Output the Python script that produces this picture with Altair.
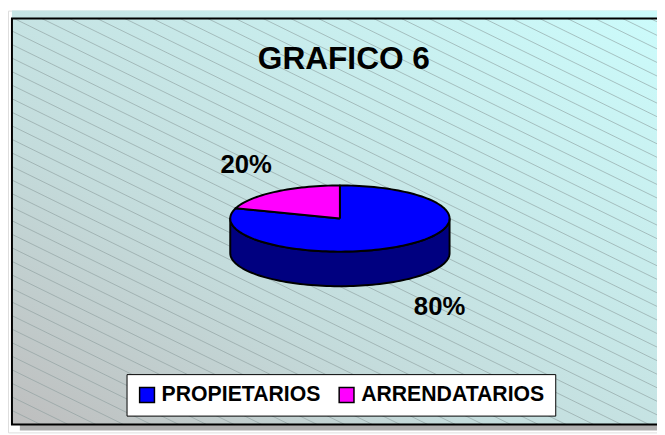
import altair as alt
import numpy as np
import pandas as pd

# ---- data ----
categories = ["PROPIETARIOS", "ARRENDATARIOS"]
shares = [80, 20]
top_colors = ["#0000FF", "#FF00FF"]
side_colors = ["#000080", "#800080"]
title_text = "GRAFICO 6"

# ---- layout (pixels inside the view) ----
W, H = 657, 427
CX, CY, RX, RY, DEPTH = 336, 210.5, 111, 33.5, 35
FRAME_X, FRAME_Y, FRAME_Y2 = 4, 8, 419
FONT = "Liberation Sans"

xs = alt.Scale(domain=[0, W], nice=False, zero=False)
ys = alt.Scale(domain=[0, H], nice=False, zero=False, reverse=True)


def ell(t, dy=0.0):
    r = np.radians(t)
    return CX + RX * np.sin(r), CY - RY * np.cos(r) + dy


# pie geometry derived from the shares
total = sum(shares)
top_rows, side_rows, label_rows = [], [], []
start = 0.0
for cat, v in zip(categories, shares):
    sweep = 360.0 * v / total
    ts = np.linspace(start, start + sweep, max(int(sweep / 2), 4))
    pts = [(CX, CY)] + [ell(t) for t in ts] + [(CX, CY)]
    for i, (x, y) in enumerate(pts):
        top_rows.append(dict(cat=cat, i=i, x=x, y=y))
    # visible side (front half: 90..270 clockwise from top)
    a, b = max(start, 90), min(start + sweep, 270)
    if b > a:
        tt = np.linspace(a, b, max(int((b - a) / 2), 4))
        spts = [ell(t) for t in tt] + [ell(t, DEPTH) for t in tt[::-1]]
        spts.append(spts[0])
        for i, (x, y) in enumerate(spts):
            side_rows.append(dict(cat=cat, i=i, x=x, y=y))
    mid = np.radians(start + sweep / 2)
    lx = CX + 1.5 * RX * np.sin(mid) + 3
    ly = CY - 2.0 * RY * np.cos(mid) + (DEPTH if np.cos(mid) < 0 else 0)
    label_rows.append(dict(cat=cat, x=lx, y=ly, txt=f"{round(100 * v / total)}%"))
    start += sweep

top_df = pd.DataFrame(top_rows)
side_df = pd.DataFrame(side_rows)
label_df = pd.DataFrame(label_rows)

# decorative hatch lines (clipped to the frame)
slope, spacing, phase = 0.49, 28.0, 118.2
hatch = []
k0 = int(np.floor((-(FRAME_Y2 - FRAME_Y) / slope - phase) / spacing)) - 1
k1 = int(np.ceil((W - phase) / spacing)) + 1
for k in range(k0, k1 + 1):
    a = phase + spacing * k
    x_start = max(a, FRAME_X)
    x_end = min(a + (FRAME_Y2 - FRAME_Y) / slope, W)
    if x_end <= x_start:
        continue
    hatch.append(dict(x=x_start, y=FRAME_Y + slope * (x_start - a),
                      x2=x_end, y2=FRAME_Y + slope * (x_end - a)))
hatch_df = pd.DataFrame(hatch)

bg_df = pd.DataFrame([dict(x=FRAME_X, x2=W + 10, y=0, y2=FRAME_Y2)])
shadow_df = pd.DataFrame([dict(x=FRAME_X + 8, x2=W + 10, y=FRAME_Y2, y2=FRAME_Y2 + 6)])
frame_df = pd.DataFrame([dict(x=FRAME_X, x2=W + 10, y=FRAME_Y, y2=FRAME_Y2)])
title_df = pd.DataFrame([dict(x=340, y=59, txt=title_text)])
legend_df = pd.DataFrame(dict(cat=categories, x=[CX] * 2, y=[CY] * 2))

gradient = {
    "gradient": "linear", "x1": 0, "y1": 1, "x2": 1, "y2": 0,
    "stops": [{"offset": 0, "color": "#bebebe"},
              {"offset": 0.35, "color": "#c4dcdc"},
              {"offset": 1, "color": "#ccfcfc"}],
}

bg = alt.Chart(bg_df).mark_rect(fill=gradient).encode(
    x=alt.X("x:Q", scale=xs, axis=None), x2="x2",
    y=alt.Y("y:Q", scale=ys, axis=None), y2="y2")
shadow = alt.Chart(shadow_df).mark_rect(fill="#b0b0b0").encode(
    x=alt.X("x:Q", scale=xs, axis=None), x2="x2",
    y=alt.Y("y:Q", scale=ys, axis=None), y2="y2")
hatch_layer = alt.Chart(hatch_df).mark_rule(stroke="#8a9a9a", strokeWidth=0.8, opacity=0.75).encode(
    x=alt.X("x:Q", scale=xs, axis=None), x2="x2",
    y=alt.Y("y:Q", scale=ys, axis=None), y2="y2")
frame = alt.Chart(frame_df).mark_rect(fillOpacity=0, stroke="black", strokeWidth=2).encode(
    x=alt.X("x:Q", scale=xs, axis=None), x2="x2",
    y=alt.Y("y:Q", scale=ys, axis=None), y2="y2")

legend_layer = alt.Chart(legend_df).mark_square(size=0, stroke="black", strokeWidth=1.5, opacity=1).encode(
    x=alt.X("x:Q", scale=xs, axis=None),
    y=alt.Y("y:Q", scale=ys, axis=None),
    fill=alt.Fill("cat:N", scale=alt.Scale(domain=categories, range=top_colors),
                  legend=alt.Legend(orient="none", legendX=120, legendY=368,
                                    direction="horizontal", title=None,
                                    symbolType="square", symbolSize=225,
                                    symbolStrokeColor="black", symbolStrokeWidth=1.5,
                                    symbolOpacity=1,
                                    labelFont=FONT, labelFontSize=21.5, labelFontWeight="bold",
                                    labelColor="black", labelLimit=400, labelOffset=4,
                                    columnPadding=15, padding=10,
                                    fillColor="white", strokeColor="black")),
)

poly_layers = []
for cat, sc in zip(categories, side_colors):
    if len(side_df) and (side_df["cat"] == cat).any():
        poly_layers.append(
            alt.Chart(side_df).transform_filter(alt.datum.cat == cat)
            .mark_line(fill=sc, stroke="black", strokeWidth=2, strokeJoin="round")
            .encode(x=alt.X("x:Q", scale=xs, axis=None),
                    y=alt.Y("y:Q", scale=ys, axis=None),
                    order="i:Q"))
for cat, tc in zip(categories, top_colors):
    poly_layers.append(
        alt.Chart(top_df).transform_filter(alt.datum.cat == cat)
        .mark_line(fill=tc, stroke="black", strokeWidth=2, strokeJoin="round")
        .encode(x=alt.X("x:Q", scale=xs, axis=None),
                y=alt.Y("y:Q", scale=ys, axis=None),
                order="i:Q"))

labels = alt.Chart(label_df).mark_text(font=FONT, fontSize=26, fontWeight="bold",
                                       color="black", align="center", baseline="middle").encode(
    x=alt.X("x:Q", scale=xs, axis=None), y=alt.Y("y:Q", scale=ys, axis=None), text="txt:N")
title = alt.Chart(title_df).mark_text(font=FONT, fontSize=32, fontWeight="bold",
                                      color="black", align="center", baseline="alphabetic").encode(
    x=alt.X("x:Q", scale=xs, axis=None), y=alt.Y("y:Q", scale=ys, axis=None), text="txt:N")

chart = alt.layer(bg, shadow, hatch_layer, frame, legend_layer, *poly_layers, labels, title).properties(
    width=W, height=H, padding=0, autosize=alt.AutoSizeParams(type="none"),
).configure_view(stroke=None).configure(background="white")

chart.save("out.html", embed_options={"renderer": "svg", "actions": False})
